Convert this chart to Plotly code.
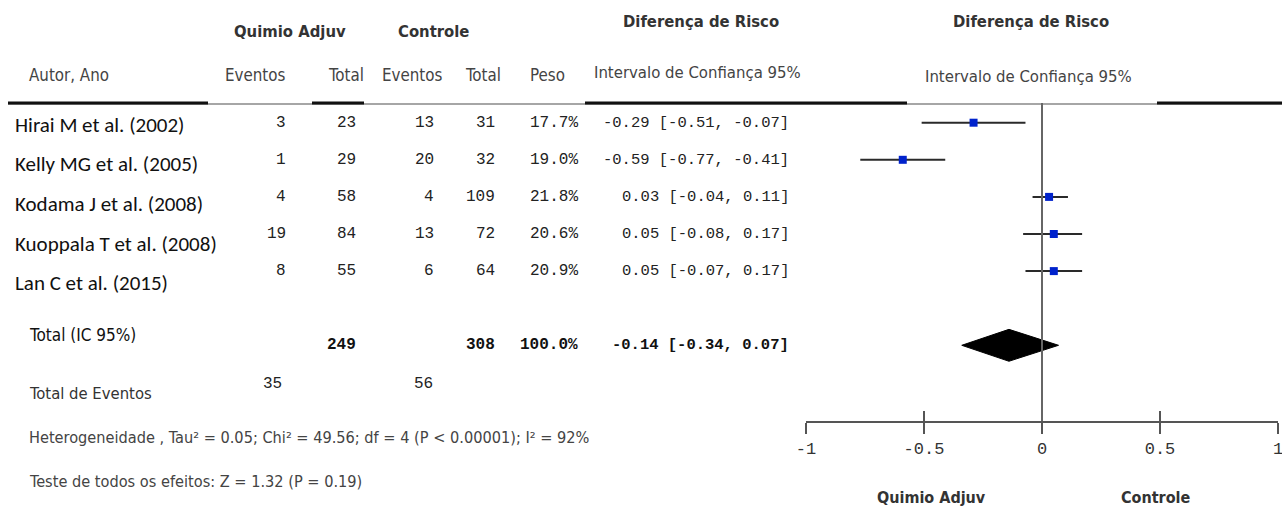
import plotly.graph_objects as go

W, H = 1282, 510

# ---------------- data ----------------
studies = ["Hirai M et al. (2002)", "Kelly MG et al. (2005)", "Kodama J et al. (2008)",
           "Kuoppala T et al. (2008)", "Lan C et al. (2015)"]
chemo_events = [3, 1, 4, 19, 8]
chemo_total = [23, 29, 58, 84, 55]
ctrl_events = [13, 20, 4, 13, 6]
ctrl_total = [31, 32, 109, 72, 64]
weights = ["17.7%", "19.0%", "21.8%", "20.6%", "20.9%"]
rd = [-0.29, -0.59, 0.03, 0.05, 0.05]
rd_lo = [-0.51, -0.77, -0.04, -0.08, -0.07]
rd_hi = [-0.07, -0.41, 0.11, 0.17, 0.17]

total_chemo = 249
total_ctrl = 308
total_weight = "100.0%"
total_rd = -0.14
total_lo = -0.34
total_hi = 0.07
total_ev_chemo = 35
total_ev_ctrl = 56

hetero_text = "Heterogeneidade , Tau² = 0.05; Chi² = 49.56; df = 4 (P < 0.00001); I² = 92%"
test_text = "Teste de todos os efeitos: Z = 1.32 (P = 0.19)"

tick_vals = [-1, -0.5, 0, 0.5, 1]
tick_text = ["-1", "-0.5", "0", "0.5", "1"]

# ---------------- styling ----------------
HEAD = "Liberation Sans Narrow, Arial Narrow, DejaVu Sans Condensed, sans-serif"
NAME = "Carlito, Calibri, Lato, sans-serif"
NUM = "Liberation Mono, DejaVu Sans Mono, monospace"

ROW0 = 122.7      # pixel centre of first study row
STEP = 37.1       # pixel spacing between rows
AXIS_PX = 421     # pixel of the x axis line
rows = list(range(len(studies)))
total_row = 6


def px2row(p):
    return (p - ROW0) / STEP


def fx(px):
    return px / W


def fy(py):
    return 1 - py / H


def fmt(v):
    return f"{v:.2f}"


fig = go.Figure()

# study CIs and point estimates
fig.add_trace(go.Scatter(
    x=rd, y=rows, mode="markers",
    marker=dict(symbol="square", size=8, color="#0022CC", line=dict(width=0)),
    error_x=dict(type="data", symmetric=False,
                 array=[h - e for h, e in zip(rd_hi, rd)],
                 arrayminus=[e - l for e, l in zip(rd, rd_lo)],
                 width=0, thickness=2, color="#2a2a2a"),
    showlegend=False, hoverinfo="skip", xaxis="x", yaxis="y"))

# pooled diamond
dh = 0.43
fig.add_trace(go.Scatter(
    x=[total_lo, total_rd, total_hi, total_rd, total_lo],
    y=[total_row, total_row - dh, total_row, total_row + dh, total_row],
    mode="lines", fill="toself", fillcolor="black",
    line=dict(color="black", width=1),
    showlegend=False, hoverinfo="skip", xaxis="x", yaxis="y"))

# invisible trace on the overlay axis so it renders
fig.add_trace(go.Scatter(x=[0], y=[total_row], mode="markers", marker=dict(opacity=0),
                         showlegend=False, hoverinfo="skip", xaxis="x2", yaxis="y"))

ann = []


def txt(x, y, s, font, size, color="#222", anchor="left", bold=False, yref="paper"):
    if bold:
        s = f"<b>{s}</b>"
    ann.append(dict(x=x, y=y, xref="paper", yref=yref, text=s, showarrow=False,
                    xanchor=anchor, yanchor="middle",
                    font=dict(family=font, size=size, color=color)))


# headers
txt(fx(290), fy(31), "Quimio Adjuv", HEAD, 16.5, "#333", "center", True)
txt(fx(434), fy(31), "Controle", HEAD, 16.5, "#333", "center", True)
txt(fx(701), fy(22), "Diferença de Risco", HEAD, 16.5, "#333", "center", True)
txt(fx(1031), fy(22), "Diferença de Risco", HEAD, 16.5, "#333", "center", True)

txt(fx(27), fy(75), "Autor, Ano", HEAD, 16.8, "#444", "left")
txt(fx(255), fy(75), "Eventos", HEAD, 16.8, "#444", "center")
txt(fx(346), fy(75), "Total", HEAD, 16.8, "#444", "center")
txt(fx(412), fy(75), "Eventos", HEAD, 16.8, "#444", "center")
txt(fx(483), fy(75), "Total", HEAD, 16.8, "#444", "center")
txt(fx(547), fy(75), "Peso", HEAD, 16.8, "#444", "center")
txt(fx(697), fy(73), "Intervalo de Confiança 95%", HEAD, 16.6, "#444", "center")
txt(fx(1028), fy(76), "Intervalo de Confiança 95%", HEAD, 16.6, "#444", "center")

# study rows
for i, r in enumerate(rows):
    txt(fx(13), r + 0.07 * i + 0.05, studies[i], NAME, 21, "#111", "left", yref="y")
    txt(fx(288), r, str(chemo_events[i]), NUM, 16, "#222", "right", yref="y")
    txt(fx(358), r, str(chemo_total[i]), NUM, 16, "#222", "right", yref="y")
    txt(fx(436), r, str(ctrl_events[i]), NUM, 16, "#222", "right", yref="y")
    txt(fx(497), r, str(ctrl_total[i]), NUM, 16, "#222", "right", yref="y")
    txt(fx(580), r, weights[i], NUM, 16, "#222", "right", yref="y")
    txt(fx(791), r, f"{fmt(rd[i])} [{fmt(rd_lo[i])}, {fmt(rd_hi[i])}]", NUM, 15.5, "#222",
        "right", yref="y")

# totals
txt(fx(27), fy(335), "Total (IC 95%)", HEAD, 17, "#111", "left")
txt(fx(358), total_row, str(total_chemo), NUM, 16, "#111", "right", True, yref="y")
txt(fx(497), total_row, str(total_ctrl), NUM, 16, "#111", "right", True, yref="y")
txt(fx(580), total_row, total_weight, NUM, 16, "#111", "right", True, yref="y")
txt(fx(791), total_row, f"{fmt(total_rd)} [{fmt(total_lo)}, {fmt(total_hi)}]", NUM, 15.5,
    "#111", "right", True, yref="y")

txt(fx(27), fy(393), "Total de Eventos", HEAD, 16.5, "#333", "left")
txt(fx(284), fy(384), str(total_ev_chemo), NUM, 16, "#222", "right")
txt(fx(435), fy(384), str(total_ev_ctrl), NUM, 16, "#222", "right")
txt(fx(27), fy(437), hetero_text, HEAD, 16.2, "#444", "left")
txt(fx(27), fy(481), test_text, HEAD, 16.2, "#444", "left")

txt(fx(931), fy(497), "Quimio Adjuv", HEAD, 16, "#333", "center", True)
txt(fx(1156), fy(497), "Controle", HEAD, 16, "#333", "center", True)

# header rule lines
shapes = [dict(type="line", xref="paper", yref="paper", x0=fx(8), x1=1, y0=fy(104), y1=fy(104),
               line=dict(color="#888", width=1.5))]
for a, b in [(8, 208), (312, 364), (585, 907), (1157, 1282)]:
    shapes.append(dict(type="line", xref="paper", yref="paper", x0=fx(a), x1=fx(b),
                       y0=fy(103), y1=fy(103), line=dict(color="#111", width=3)))
# line of no effect
shapes.append(dict(type="line", xref="x", yref="y", x0=0, x1=0,
                   y0=px2row(103), y1=px2row(AXIS_PX), line=dict(color="#666", width=2)))

x_lo_px, x_hi_px = 806, 1278
ydom0 = 1 - AXIS_PX / H

fig.update_layout(
    width=W, height=H, autosize=False,
    margin=dict(l=0, r=0, t=0, b=0, pad=0, autoexpand=False),
    paper_bgcolor="white", plot_bgcolor="white",
    annotations=ann, shapes=shapes,
    xaxis=dict(domain=[fx(x_lo_px), fx(x_hi_px)], range=[-1, 1], anchor="y",
               showgrid=False, zeroline=False, showline=True, linecolor="#555", linewidth=2,
               ticks="outside", ticklen=11, tickwidth=2, tickcolor="#555",
               tickvals=tick_vals, ticktext=tick_text, automargin=False,
               ticklabeloverflow="allow",
               tickfont=dict(family=NUM, size=17, color="#333")),
    xaxis2=dict(domain=[fx(x_lo_px), fx(x_hi_px)], range=[-1, 1], anchor="y", overlaying="x",
                showgrid=False, zeroline=False, showline=False, automargin=False,
                ticks="inside", ticklen=10, tickwidth=2, tickcolor="#555",
                tickvals=tick_vals, showticklabels=False),
    yaxis=dict(domain=[ydom0, 1], range=[px2row(AXIS_PX), px2row(0)], visible=False,
               showgrid=False, zeroline=False, automargin=False),
)

fig.write_html("out.html", config={"displayModeBar": False},
               post_script="document.body.style.margin='0';document.body.style.padding='0';"
                           "document.body.style.overflow='hidden';")
